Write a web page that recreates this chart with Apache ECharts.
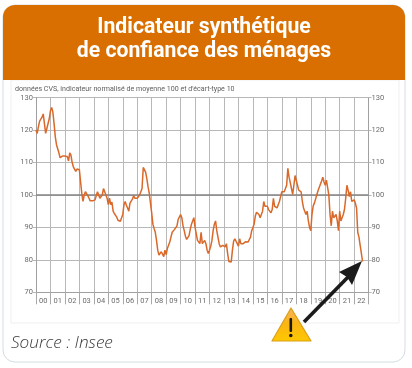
<!DOCTYPE html>
<html>
<head>
<meta charset="utf-8">
<style>
  html, body { margin: 0; padding: 0; background: #fff; }
  #chart { width: 412px; height: 368px; }
</style>
<script src="https://cdn.jsdelivr.net/npm/echarts@6/dist/echarts.min.js"></script>
</head>
<body>
<div id="chart"></div>
<script>
const titleLines = ['Indicateur synthétique', 'de confiance des ménages'];
const subtitle = "données CVS, indicateur normalisé de moyenne 100 et d'écart-type 10";
const source = 'Source : Insee';
const years = ['00', '01', '02', '03', '04', '05', '06', '07', '08', '09', '10', '11',
  '12', '13', '14', '15', '16', '17', '18', '19', '20', '21', '22'];
// valeurs mensuelles, une ligne par annee
const indicator = [
  120, 119, 121, 122.8, 123, 124, 125, 122, 119, 120.5, 121, 123.5,
  126, 127, 125.5, 122, 118, 115.5, 115, 113, 111.5, 112, 112, 112,
  112, 111.5, 111.8, 110.5, 113, 112.3, 110, 108.7, 108, 107.3, 108, 108,
  107.8, 104, 100.5, 98, 100, 101, 100.7, 99.8, 99, 98.2, 98, 98.2,
  98, 98.5, 99, 101, 100, 99, 99.3, 100, 102, 101, 100, 99,
  97, 99, 97, 97.8, 95, 94.3, 94, 93.2, 92.2, 92, 91.9, 92.3,
  94, 97, 98, 96.8, 96, 95, 97.5, 98, 98.7, 99.8, 99, 99,
  99, 99, 100, 101, 102, 108.5, 109, 107, 105, 102.5, 100.5, 97.5,
  94.5, 91, 89.7, 88.5, 86, 83, 81.5, 81, 82.5, 82.5, 81, 83,
  81.6, 83.5, 83.5, 85.5, 87, 88.5, 88.5, 89.4, 90, 90.5, 92.5, 93,
  94, 93, 90.5, 89, 87.3, 86.3, 86.3, 87.5, 89.4, 91, 92, 93,
  90, 88, 86, 85.5, 85, 88.5, 85, 84.5, 86, 85, 83, 82,
  83, 84.2, 86, 89, 91, 92, 89, 87, 85, 84, 83.5, 84.5,
  84.7, 84, 85, 82, 79.5, 79.3, 79.3, 83, 85.8, 86.5, 87, 85,
  84.2, 86.5, 85, 85.5, 85, 85.3, 85.6, 86, 85.5, 85, 87, 89,
  89.5, 91, 93.5, 94.7, 95, 94, 93, 93.2, 95, 98, 96.5, 96,
  96.5, 95.5, 95, 94.5, 95.5, 99, 96.5, 96, 96, 97, 98, 99.5,
  101, 101.2, 101, 101.2, 103, 108.2, 105.5, 103.8, 102, 100.2, 103, 106,
  106.5, 103, 101.5, 102, 101, 98, 96, 96.5, 94, 95, 92, 90,
  89, 94, 96.6, 97.5, 98, 100, 101.3, 102.3, 103.3, 104.3, 105.5, 104,
  103, 104.6, 104, 100, 94, 90.5, 95, 93, 93.3, 94, 92, 89,
  95, 92, 91.5, 94, 95.6, 99, 103, 101.5, 99.5, 101, 98, 98.5,
  98.5, 97.5, 96, 88.5, 87, 84.5, 82, 79.5
];

const chart = echarts.init(document.getElementById('chart'));
const gridColor = '#b8b8b8';
const labelColor = '#6b6b6b';

const yAxisBase = {
  type: 'value',
  min: 70,
  max: 130,
  interval: 10,
  axisLine: { show: true, lineStyle: { color: '#a0a0a0', width: 1 } },
  axisTick: { show: true, length: 3, lineStyle: { color: gridColor } },
  axisLabel: { color: labelColor, fontSize: 7.5, fontFamily: 'Roboto', margin: 3 },
};

chart.setOption({
  animation: false,
  backgroundColor: '#fff',
  grid: { left: 36, top: 97.7, width: 332.6, height: 194.6, containLabel: false },
  xAxis: [
    {
      type: 'category',
      data: years,
      position: 'bottom',
      axisLine: { lineStyle: { color: '#a0a0a0' } },
      axisTick: { show: true, length: 12, lineStyle: { color: '#a8a8a8' } },
      axisLabel: { color: labelColor, fontSize: 7.5, fontFamily: 'Roboto', margin: 5, interval: 0 },
      splitLine: { show: true, lineStyle: { color: gridColor, width: 1 } },
    },
    { type: 'value', min: 0, max: 276, show: false },
  ],
  yAxis: [
    Object.assign({}, yAxisBase, {
      position: 'left',
      splitLine: { show: true, lineStyle: { color: gridColor, width: 1 } },
    }),
    Object.assign({}, yAxisBase, { position: 'right', splitLine: { show: false } }),
  ],
  series: [
    {
      type: 'line',
      xAxisIndex: 1,
      yAxisIndex: 0,
      data: indicator.map((v, i) => [i, v]),
      showSymbol: false,
      lineStyle: { color: '#d9692a', width: 1.5 },
      markLine: {
        silent: true,
        symbol: 'none',
        label: { show: false },
        lineStyle: { color: '#858585', width: 1.6, type: 'solid' },
        data: [{ yAxis: 100 }],
        z: 1,
      },
    },
  ],
  graphic: [
    // carte et bandeau
    { type: 'rect', z: -10, shape: { x: 3, y: 5, width: 402, height: 357, r: 12 },
      style: { fill: '#fff', stroke: '#d3dde2', lineWidth: 1 } },
    { type: 'rect', z: -9, shape: { x: 11, y: 80, width: 388, height: 243 },
      style: { fill: '#fff', stroke: '#efefef', lineWidth: 1 } },
    { type: 'rect', z: 5, shape: { x: 3, y: 5, width: 402, height: 75, r: [12, 12, 0, 0] },
      style: { fill: '#d96f00' } },
    { type: 'text', z: 6, x: 204, y: 28, style: { text: titleLines[0], fill: '#fff',
      font: '700 21.2px Roboto', textAlign: 'center', textVerticalAlign: 'middle' } },
    { type: 'text', z: 6, x: 204, y: 52, style: { text: titleLines[1], fill: '#fff',
      font: '700 21.2px Roboto', textAlign: 'center', textVerticalAlign: 'middle' } },
    { type: 'text', z: 6, x: 15, y: 89, style: { text: subtitle, fill: '#5f5f5f',
      font: '7.1px Roboto', textVerticalAlign: 'middle' } },
    { type: 'text', z: 6, x: 11, y: 343, style: { text: source, fill: '#3a3a3a',
      font: 'italic 300 17.2px "Open Sans"', textVerticalAlign: 'middle' } },
    // fleche
    { type: 'line', z: 7, shape: { x1: 304, y1: 322, x2: 350, y2: 275 },
      style: { stroke: '#1c1c1c', lineWidth: 3.6 } },
    { type: 'polygon', z: 7, shape: { points: [[362, 261], [339, 272], [347, 277], [352, 285]] },
      style: { fill: '#1c1c1c' } },
    // panneau attention
    { type: 'polygon', z: 7, shape: { points: [[291, 308], [311, 341], [272, 341]] },
      style: {
        fill: { type: 'linear', x: 0, y: 0, x2: 0, y2: 1, colorStops: [
          { offset: 0, color: '#f5b26a' }, { offset: 0.45, color: '#fbb515' }, { offset: 1, color: '#ffc800' },
        ] },
        stroke: '#d9a016', lineWidth: 1.2, lineJoin: 'round',
      } },
    { type: 'rect', z: 8, shape: { x: 289.5, y: 318, width: 2.6, height: 14, r: 1 }, style: { fill: '#1a1a1a' } },
    { type: 'circle', z: 8, shape: { cx: 290.8, cy: 335.5, r: 1.8 }, style: { fill: '#1a1a1a' } },
  ],
});
</script>
</body>
</html>
